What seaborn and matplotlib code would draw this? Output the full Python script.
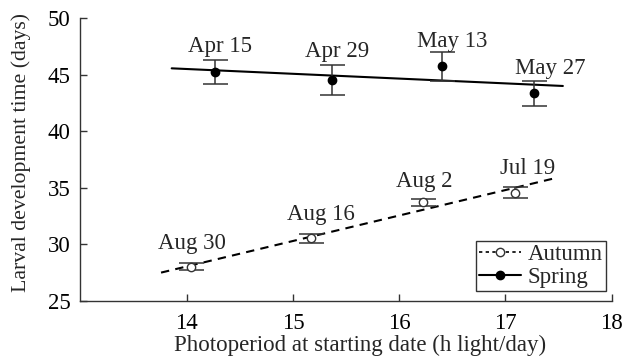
import numpy as np
import pandas as pd
import matplotlib
matplotlib.use("Agg")
import matplotlib.pyplot as plt
from matplotlib.lines import Line2D
import seaborn as sns

# data
spring_dates = ['Apr 15', 'Apr 29', 'May 13', 'May 27']
spring_x = [14.27, 15.37, 16.40, 17.27]
spring_y = [45.26, 44.52, 45.75, 43.35]
spring_err = [1.05, 1.30, 1.28, 1.12]

autumn_dates = ['Aug 30', 'Aug 16', 'Aug 2', 'Jul 19']
autumn_x = [14.04, 15.17, 16.22, 17.09]
autumn_y = [28.03, 30.54, 33.72, 34.57]
autumn_err = [0.28, 0.40, 0.33, 0.49]

# x range over which the regression lines are drawn
spring_fit_range = [13.86, 17.54]
autumn_fit_range = [13.76, 17.46]

# label offsets (pixels) relative to top of error bar
spring_offsets = [(5, 8), (5, 8), (10, 5), (16, 7)]
autumn_offsets = [(1, 14), (10, 14), (2, 12), (13, 13)]

FS = 16.5

sns.set_theme(style="ticks")
plt.rcParams['font.family'] = ['Liberation Serif', 'DejaVu Serif']
plt.rcParams['font.size'] = FS

fig = plt.figure(figsize=(6.32, 3.6), dpi=100)
ax = fig.add_axes([0.127, 0.164, 0.841, 0.786])

# regression lines
for xs, ys, rng, ls in [(spring_x, spring_y, spring_fit_range, '-'),
                        (autumn_x, autumn_y, autumn_fit_range, (0, (4, 3)))]:
    b, a = np.polyfit(xs, ys, 1)
    fx = np.array(rng)
    fit = pd.DataFrame({'x': fx, 'y': a + b * fx})
    sns.lineplot(data=fit, x='x', y='y', ax=ax, color='black', lw=1.5,
                 linestyle=ls)

ax.errorbar(spring_x, spring_y, yerr=spring_err, fmt='o', color='black',
            ecolor='#333333', elinewidth=1.1, capsize=9, capthick=1.1,
            markersize=6, zorder=3)
ax.errorbar(autumn_x, autumn_y, yerr=autumn_err, fmt='o', color='#333333',
            mfc='white', mec='#333333', ecolor='#333333', elinewidth=1.1,
            capsize=9, capthick=1.1, markersize=6, zorder=3)

for xs, ys, es, labs, offs in [(spring_x, spring_y, spring_err, spring_dates, spring_offsets),
                               (autumn_x, autumn_y, autumn_err, autumn_dates, autumn_offsets)]:
    for x, y, e, lab, (dx, dy) in zip(xs, ys, es, labs, offs):
        ax.annotate(lab, (x, y + e), xytext=(dx, dy), textcoords='offset pixels',
                    ha='center', va='baseline', fontsize=FS)

ax.set_xlim(13, 18)
ax.set_ylim(25, 50)
ax.set_xticks([14, 15, 16, 17, 18])
ax.set_yticks([25, 30, 35, 40, 45, 50])
ax.tick_params(direction='in', length=5, width=1, colors='#333333',
               labelcolor='black', labelsize=FS)
ax.tick_params(axis='x', pad=9)
ax.tick_params(axis='y', pad=7)
for s in ['top', 'right']:
    ax.spines[s].set_visible(False)
for s in ['left', 'bottom']:
    ax.spines[s].set_color('#333333')
    ax.spines[s].set_linewidth(1)
ax.set_xlabel('Photoperiod at starting date (h light/day)', fontsize=FS)
ax.set_ylabel('Larval development time (days)', fontsize=15.7)
ax.xaxis.set_label_coords(0.526, -0.118)
ax.yaxis.set_label_coords(-0.092, 0.523)

handles = [Line2D([], [], color='black', lw=1.2, linestyle=(0, (2, 2)), marker='o',
                  mfc='white', mec='#333333', markersize=6),
           Line2D([], [], color='black', lw=1.5, marker='o', markersize=6)]
leg = ax.legend(handles, ['Autumn', 'Spring'], loc='lower right',
                bbox_to_anchor=(0.989, 0.035), fontsize=FS, frameon=True,
                fancybox=False, handlelength=1.8, handletextpad=0.3,
                borderpad=0.15, labelspacing=0.05, borderaxespad=0)
leg.get_frame().set_edgecolor('black')
leg.get_frame().set_linewidth(1)

fig.savefig('out.png', dpi=100)
